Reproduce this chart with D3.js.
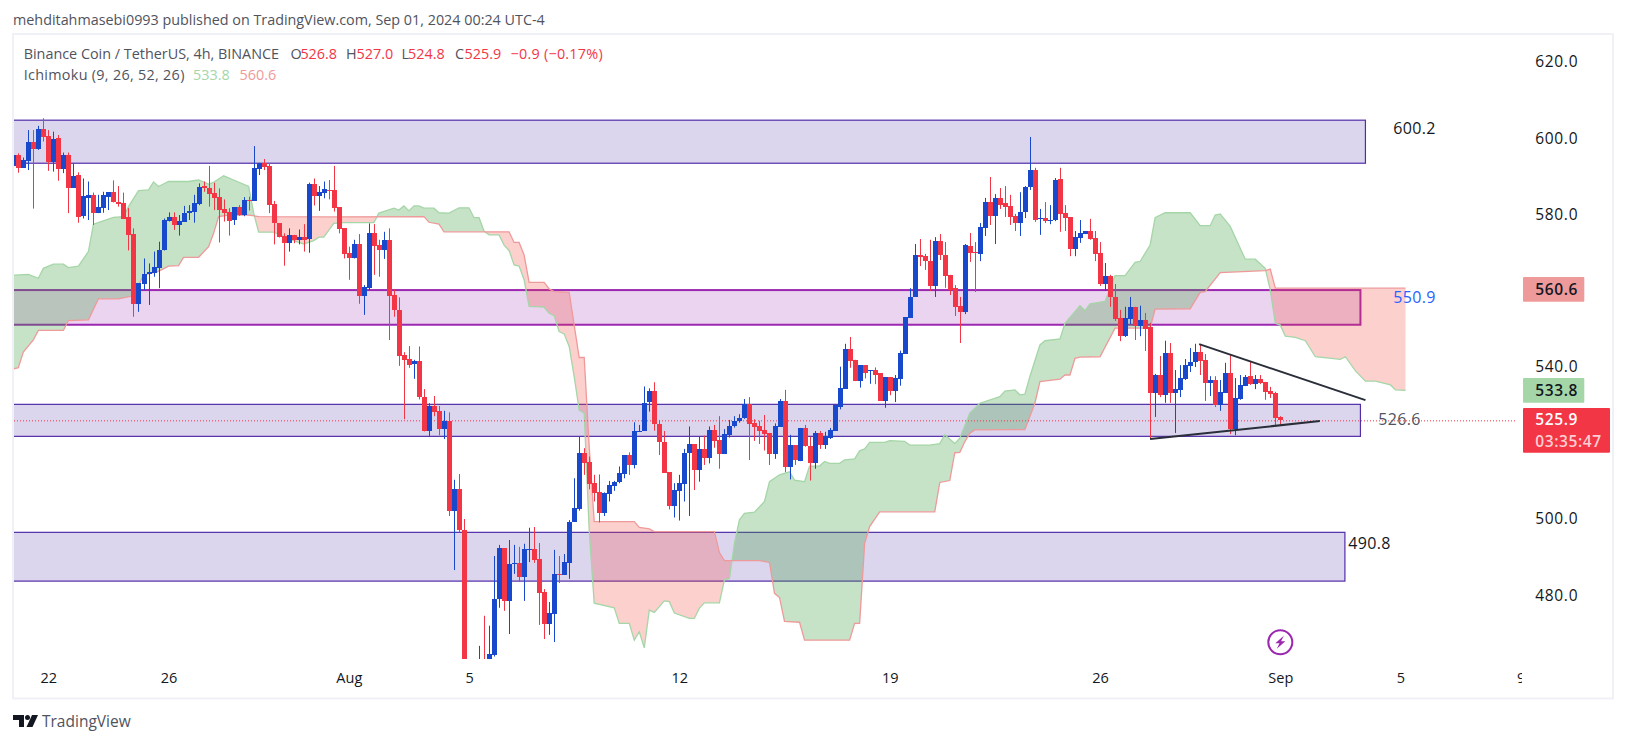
<!DOCTYPE html>
<html><head><meta charset="utf-8">
<style>html,body{margin:0;padding:0;background:#fff}svg{display:block}text{font-family:"Open Sans",sans-serif}</style>
<script src="https://cdn.jsdelivr.net/npm/d3@7/dist/d3.min.js"></script></head><body>
<script>
// ---- values (4h candles, index 0 = first visible bar) ----
const opens=[592.8,595.6,592.2,594.0,598.9,597.2,602.3,600.5,593.7,600.0,591.9,595.6,587.0,590.3,579.5,584.4,585.0,580.4,581.7,584.6,585.8,583.2,582.9,579.2,574.8,556.5,561.6,564.2,564.7,565.9,570.5,578.3,579.2,577.2,578.1,580.3,580.7,582.7,587.3,586.8,585.5,584.5,581.3,580.5,578.5,581.8,579.8,583.8,583.6,592.0,593.4,592.7,582.6,577.6,574.3,572.5,574.6,573.3,574.0,573.5,588.0,584.9,585.7,586.5,586.4,581.8,576.3,569.8,568.6,572.2,558.6,560.7,575.0,572.0,570.5,573.3,558.8,555.0,543.1,542.0,540.7,541.5,532.0,523.2,529.7,528.4,523.7,525.8,502.0,507.9,497.1,455,435,440,458,455,464.3,479.0,492.4,478.5,488.1,488.5,484.8,491.9,492.1,489.5,480.8,472.5,475.1,485.6,485.3,488.5,499.3,502.6,517.3,514.9,509.4,507.0,501.7,506.6,508.7,509.6,511.8,516.8,514.2,522.9,523.1,530.6,533.6,525.0,520.1,512.3,503.4,507.4,509.2,517.3,519.7,512.9,518.4,516.0,523.4,520.8,517.1,522.1,524.3,525.6,526.5,530.1,525.1,524.4,523.4,522.6,517.1,524.2,531.0,513.7,519.4,515.2,523.9,519.2,514.8,522.6,519.4,521.2,523.1,529.5,534.2,544.6,541.8,536.2,540.4,538.9,539.1,538.2,531.0,537.3,533.6,536.7,543.3,552.8,558.3,569.3,569.0,567.7,561.2,573.0,569.3,564.1,560.7,555.9,554.4,571.7,570.1,569.6,576.3,583.2,579.5,584.3,582.9,582.2,579.5,577.7,580.6,587.2,591.6,578.7,578.9,578.2,578.5,589.3,580.3,579.3,570.9,573.8,574.8,575.6,573.8,569.8,561.7,563.8,558.3,552.8,548.0,552.5,555.7,550.7,552.3,550.4,533.2,537.8,532.6,543.6,533.1,533.9,536.8,540.2,541.1,543.8,541.8,535.7,536.5,530.0,533.1,538.3,523.6,531.5,535.0,537.5,535.4,536.8,536.0,533.6,533.1,526.8];
const highs=[597.3,596.0,594.9,602.1,602.1,603.2,605.2,602.1,601.7,600.8,596.2,596.2,593.4,591.0,589.4,588.6,585.7,585.1,585.9,585.8,588.9,587.4,585.7,581.6,576.3,561.9,568.4,567.1,570.2,572.8,578.9,580.5,580.5,579.8,582.2,582.4,585.1,588.1,588.6,592.7,588.3,586.8,583.9,581.6,581.8,582.4,584.5,584.6,597.9,593.5,594.5,593.4,583.5,577.6,575.0,576.3,574.6,576.0,577.4,588.3,589.4,587.4,588.6,589.0,592.7,581.8,576.3,571.5,573.3,574.8,561.4,577.6,577.4,573.3,575.4,576.3,560.3,558.2,543.8,545.4,541.8,545.3,534.1,530.4,532.3,529.7,528.4,528.0,510.3,511.8,500.0,458,445,466.7,474.6,472.0,490.3,493.2,492.4,494.5,493.2,492.7,493.5,497.7,497.9,493.7,481.6,478.2,491.9,490.3,490.8,499.7,510.7,521.6,518.6,516.4,511.6,511.7,507.0,510.0,510.0,513.8,516.8,517.5,525.4,524.7,534.8,534.3,535.9,526.0,523.1,512.3,509.4,511.6,518.4,524.3,519.7,521.6,521.9,524.3,524.7,527.0,523.6,526.0,527.0,527.5,531.5,532.0,526.2,525.8,527.3,522.6,525.1,531.5,533.9,522.1,519.4,523.9,524.7,521.6,523.1,523.1,522.9,523.9,530.2,540.0,546.0,547.8,541.8,540.4,540.4,539.1,539.8,538.2,537.3,537.3,537.8,544.2,553.0,560.6,572.2,573.5,569.6,573.3,574.0,574.8,572.7,564.1,561.4,558.3,572.2,575.1,572.7,577.7,584.3,589.8,585.3,586.9,587.4,585.1,580.1,585.8,587.4,600.3,592.2,581.4,583.2,582.4,589.5,592.2,582.4,579.3,575.6,578.5,575.6,578.8,575.6,572.7,567.2,564.1,561.7,554.9,555.7,558.3,555.7,556.0,554.1,551.5,538.1,542.8,546.8,546.2,539.1,540.4,542.0,544.9,546.0,545.7,543.3,537.5,537.5,536.5,541.0,543.3,537.0,537.8,537.8,541.5,537.8,537.8,536.0,534.7,533.4,527.0];
const lows=[592.8,590.9,592.2,591.6,581.5,596.9,599.1,591.4,591.2,588.8,590.8,580.3,587.0,577.8,578.9,578.5,577.2,580.3,580.4,581.1,583.1,582.0,578.8,570.5,553.1,554.4,560.1,556.2,563.6,560.6,570.5,578.1,575.9,574.4,578.1,578.5,577.8,582.4,585.9,582.0,581.1,572.6,578.1,574.4,577.2,579.6,579.5,581.0,583.6,590.3,591.6,580.3,572.1,573.9,566.5,570.2,572.4,572.1,570.2,569.9,582.3,580.9,584.2,583.9,580.7,575.0,568.4,562.8,568.4,556.5,553.6,560.1,564.1,563.6,568.3,547.0,553.1,540.2,526.2,539.7,536.8,531.4,523.0,521.8,527.0,522.0,521.0,500.8,486.6,496.5,450,420,410,435,450,452,463.9,476.7,475.9,469.8,485.6,483.5,478.5,488.7,488.5,472.2,468.5,469.6,467.7,483.2,485.3,484.3,499.3,502.2,511.6,507.8,504.6,499.1,500.8,504.6,507.4,509.4,510.7,511.6,513.3,522.9,523.1,528.2,523.2,516.8,512.2,502.5,500.4,499.6,504.6,500.8,507.6,509.8,514.2,514.6,518.7,513.2,517.1,521.4,524.0,525.3,526.3,515.5,520.5,519.7,518.0,514.2,515.8,524.2,512.3,510.4,514.2,515.2,519.0,510.1,513.2,518.4,518.4,521.0,523.1,528.8,534.2,539.7,536.2,534.5,536.9,535.5,535.4,531.0,529.2,532.5,530.7,535.0,543.3,552.8,558.3,566.4,565.4,559.9,558.3,568.0,560.7,558.8,553.3,546.2,553.8,567.5,559.6,567.7,574.3,577.2,572.2,581.4,579.3,577.2,575.6,574.3,579.0,586.4,578.0,574.6,577.7,577.4,578.2,575.4,575.6,569.0,569.0,572.5,574.8,573.3,567.7,561.2,559.9,555.7,552.0,546.7,547.8,551.2,547.0,548.0,544.1,521.0,526.8,532.0,530.5,530.5,522.6,532.0,536.5,538.6,539.9,537.8,531.0,532.3,529.4,528.4,533.1,522.3,522.0,531.3,534.9,535.2,534.1,535.4,531.3,531.8,524.4,524.8];
const closes=[595.6,592.2,594.2,598.9,597.2,602.3,600.4,593.8,599.8,591.9,595.6,587.0,590.0,579.3,584.8,585.0,580.4,581.8,585.0,585.8,583.1,582.7,578.8,574.6,556.5,561.9,564.2,564.9,566.1,570.6,578.5,579.2,577.2,578.3,580.3,580.9,582.9,587.1,586.9,585.3,584.4,581.1,580.4,578.3,581.8,579.8,583.8,583.5,592.1,593.4,592.5,582.4,577.6,574.1,572.5,574.6,573.3,574.0,573.3,588.0,584.8,585.9,586.6,586.4,581.7,576.2,569.7,568.6,572.2,558.6,561.0,575.0,571.8,570.5,573.3,558.6,554.9,542.9,541.8,540.4,541.5,531.9,523.2,529.7,528.2,523.7,525.7,502.0,507.9,497.0,455,435,440,455,452,464.6,479.0,492.4,478.5,488.2,488.5,484.8,492.1,492.1,489.3,480.6,472.5,475.4,485.6,485.3,488.7,499.2,502.8,517.3,514.8,509.2,506.8,501.7,506.8,508.9,509.8,512.0,516.8,514.2,523.1,523.1,530.4,533.6,524.9,520.1,512.2,503.4,507.6,509.4,517.3,519.7,512.9,518.4,516.0,523.4,520.6,517.1,522.3,524.4,525.7,526.5,530.1,525.0,524.1,523.1,522.3,517.1,524.4,531.0,513.7,519.4,515.5,523.9,519.2,514.8,522.6,519.4,521.8,523.4,529.8,534.4,544.6,541.5,536.2,540.4,538.3,539.1,537.8,531.0,537.3,533.6,536.9,543.5,553.0,558.3,569.3,568.8,567.7,561.2,573.0,569.2,563.8,560.1,555.7,554.4,572.0,569.8,569.8,576.7,583.2,579.5,584.3,582.4,581.9,579.3,577.7,580.6,587.2,591.6,578.5,578.9,578.2,578.5,589.0,580.1,579.0,570.9,574.0,575.1,575.6,573.5,569.6,561.7,563.8,558.3,552.5,548.0,552.8,555.7,550.7,552.3,549.9,533.1,537.8,532.6,543.6,533.1,534.2,537.0,540.4,541.2,543.8,541.5,535.7,536.5,530.0,533.3,538.3,523.6,531.8,535.2,537.3,535.4,536.8,535.7,533.3,532.8,526.5,525.9];

const leadAIdx=[0,3,5,6,8,10,11,13,15,16,20,22,23,25,27,28,29,31,35,37,39,40,42,44,47,48,49,52,56,58,60,61,62,64,66,72,73,76,77,78,79,80,81,82,84,85,87,89,91,92,93,94,95,97,98,99,100,101,102,103,106,107,108,109,110,111,112,113,114,115,116,120,121,123,124,125,126,127,128,130,131,132,135,136,137,138,141,142,143,144,145,146,148,150,151,153,155,156,158,159,161,162,163,165,166,168,169,170,171,174,175,178,179,183,185,186,188,189,191,193,197,198,200,201,202,203,205,206,209,210,213,214,215,218,220,222,224,225,227,228,230,235,237,239,240,241,243,246,248,250,251,252,253,254,256,258,260,265,266,268,270,272,275,276,278];
const leadAVal=[564.0,564.2,563.2,565.8,566.9,566.9,566.0,566.4,570.2,577.4,579.2,579.4,582.0,586.2,586.4,588.5,587.3,588.6,588.6,589.0,587.9,588.4,590.1,589.0,587.3,580.3,575.3,575.3,573.1,572.2,573.1,574.0,574.0,577.6,577.8,577.8,580.3,581.6,581.1,582.2,580.9,582.2,582.2,581.6,581.6,580.4,580.3,581.7,581.7,579.1,579.1,575.6,574.6,574.6,571.9,570.5,566.7,566.4,562.8,555.8,555.6,554.0,553.4,549.2,548.6,545.3,537.4,528.6,527.8,497.0,477.9,476.7,472.6,472.6,468.2,470.4,466.2,476.1,475.5,478.5,478.3,475.3,473.9,473.9,476.6,478.0,478.0,484.0,484.4,493.6,499.8,501.5,501.8,504.6,509.8,511.6,512.4,510.2,509.8,513.9,513.9,515.1,514.6,514.6,515.5,515.8,517.9,518.4,520.1,520.1,520.6,520.4,519.4,519.4,519.8,522.1,519.8,521.2,527.8,530.4,532.1,533.6,533.9,532.6,532.8,537.4,545.7,546.8,547.3,551.4,556.0,554.7,556.5,557.1,563.9,563.9,567.4,567.6,571.9,579.1,580.4,580.4,577.0,577.0,579.8,580.1,576.8,568.2,568.2,565.8,560.1,551.4,550.9,548.0,547.7,546.8,542.6,541.9,542.6,538.9,536.2,536.2,535.2,533.9,533.8];
const leadBIdx=[0,1,2,4,5,10,11,15,17,21,24,26,29,31,33,34,37,39,40,41,43,47,49,64,82,83,85,86,99,100,101,102,103,106,107,108,111,112,113,114,115,116,124,125,127,128,140,141,142,149,151,152,153,154,157,158,167,168,169,170,171,173,184,185,187,188,189,190,191,192,202,204,205,209,210,211,212,213,217,220,227,228,235,237,238,241,250,251,252,278];
const leadBVal=[539.4,539.7,543.8,547.0,549.5,549.5,552.1,552.3,557.8,557.8,558.6,564.0,565.0,566.4,566.5,568.7,568.7,571.5,575.0,579.4,579.8,579.8,579.4,579.3,579.4,577.9,577.4,575.4,575.4,572.6,572.6,569.3,562.1,562.1,560.4,559.7,559.5,550.9,542.4,542.4,519.0,499.3,499.3,497.8,497.4,496.7,496.7,491.2,489.1,489.1,488.6,480.5,479.4,473.1,472.9,468.2,468.2,472.6,472.6,493.6,498.0,501.9,501.9,509.6,510.1,517.4,517.5,520.3,522.5,523.4,523.5,530.4,536.1,536.7,537.8,537.8,542.2,542.5,542.6,550.1,550.1,555.1,555.2,559.5,559.7,564.7,565.2,565.6,560.6,560.6];

const zoneNames=["upper","middle","lower","bottom"];
const zoneTops=[604.7,560.1,530.1,496.5];
const zoneBottoms=[593.4,551.0,521.7,483.7];
const zoneEnds=[270,269,269,265.9];
const zoneLabels=["600.2","550.9","526.6","490.8"];
const zoneLabelPrices=[602.5,558.1,526.2,493.5];
const zoneLabelIdx=[279.8,279.8,276.8,270.8];

const trendIdxUpper=[236.8,270], trendValUpper=[545.9,531.2];
const trendIdxLower=[227,260.9], trendValLower=[521.0,525.7];

const yTickValues=[480,500,540,580,600,620];
const xTickIdx=[7,31,67,91,133,175,217,253,277,301];
const xTickLabels=["22","26","Aug","5","12","19","26","Sep","5","9"];
const lastClose=525.9, lastAmount=["525.9","03:35:47"];
const leadATag=533.8, leadBTag=560.6;
const legendPrefixes=["O","H","L","C"];
const legendOHLC=["526.8","527.0","524.8","525.9"];
const legendChange="−0.9 (−0.17%)";

// ---- scales ----
const W=1627,H=743;
const x=d3.scaleLinear().domain([0,253]).range([13.3,1280.3]);
const y=d3.scaleLinear().domain([480,620]).range([595.2,61.9]);
const BLUE="#1848CC",RED="#F23645";
const svg=d3.select("body").append("svg").attr("width",W).attr("height",H);
const defs=svg.append("defs");
defs.append("clipPath").attr("id","plot").append("rect").attr("x",14).attr("y",34).attr("width",1508).attr("height",625);
defs.append("clipPath").attr("id","xaxis").append("rect").attr("x",14).attr("y",660).attr("width",1508).attr("height",38);

// frame
svg.append("rect").attr("x",13).attr("y",34).attr("width",1600).attr("height",664.5).attr("fill","#fff").attr("stroke","#F0F1F7").attr("stroke-width",2);

// header
svg.append("text").attr("x",13).attr("y",25).attr("font-size",14.35).attr("fill","#50535E").text("mehditahmasebi0993 published on TradingView.com, Sep 01, 2024 00:24 UTC-4");

const plot=svg.append("g").attr("clip-path","url(#plot)");

// zones
zoneNames.forEach((n,i)=>{
  const purple=n==="middle";
  plot.append("rect").attr("x",x(-1)).attr("width",x(zoneEnds[i])-x(-1))
    .attr("y",y(zoneTops[i])).attr("height",y(zoneBottoms[i])-y(zoneTops[i]))
    .attr("fill",purple?"rgba(156,39,176,0.2)":"rgba(81,45,168,0.2)")
    .attr("stroke",purple?"#9C27B0":"#512DA8").attr("stroke-width",purple?2:1.2);
});

// cloud
const lerpA=d3.scaleLinear().domain(leadAIdx).range(leadAVal);
const lerpB=d3.scaleLinear().domain(leadBIdx).range(leadBVal);
const samples=d3.range(0,278.01,0.125);
const areaUp=d3.area().x(k=>x(k)).y0(k=>y(lerpB(k))).y1(k=>y(Math.max(lerpA(k),lerpB(k))));
const areaDn=d3.area().x(k=>x(k)).y0(k=>y(lerpB(k))).y1(k=>y(Math.min(lerpA(k),lerpB(k))));
plot.append("path").attr("d",areaUp(samples)).attr("fill","rgba(67,160,71,0.3)");
plot.append("path").attr("d",areaDn(samples)).attr("fill","rgba(244,67,54,0.25)");
const lineAt=(idx,val)=>d3.line().x((d,i)=>x(idx[i])).y((d,i)=>y(val[i]))(idx);
plot.append("path").attr("d",lineAt(leadAIdx,leadAVal)).attr("fill","none").attr("stroke","#A5D6A7").attr("stroke-width",1.3);
plot.append("path").attr("d",lineAt(leadBIdx,leadBVal)).attr("fill","none").attr("stroke","#EF9A9A").attr("stroke-width",1.3);

// last price line
plot.append("line").attr("x1",14).attr("x2",1517).attr("y1",y(lastClose)+.5).attr("y2",y(lastClose)+.5)
  .attr("stroke",RED).attr("stroke-width",1).attr("stroke-dasharray","1 2");

// candles
const candles=plot.append("g").selectAll("g").data(opens).join("g");
candles.each(function(o,k){
  const g=d3.select(this),c=closes[k],col=c>=o?BLUE:RED,xr=Math.round(x(k));
  g.append("rect").attr("x",xr).attr("width",1).attr("y",y(highs[k])).attr("height",y(lows[k])-y(highs[k])).attr("fill",col);
  const top=Math.round(y(Math.max(o,c))),bot=Math.round(y(Math.min(o,c)));
  g.append("rect").attr("x",xr-2).attr("width",5).attr("y",top).attr("height",Math.max(1,bot-top)).attr("fill",col);
});

// trend lines
[[trendIdxUpper,trendValUpper],[trendIdxLower,trendValLower]].forEach(([a,b])=>{
  plot.append("line").attr("x1",x(a[0])).attr("y1",y(b[0])).attr("x2",x(a[1])).attr("y2",y(b[1]))
    .attr("stroke","#2A2E39").attr("stroke-width",2);
});

// zone labels
const labelFill=["#131722","#2962FF","#50535E","#131722"];
zoneLabels.forEach((t,i)=>{
  svg.append("text").attr("x",x(zoneLabelIdx[i])).attr("y",y(zoneLabelPrices[i])).attr("dy","0.35em")
    .attr("text-anchor","middle").attr("font-size",16).attr("letter-spacing",0.3).attr("fill",labelFill[i]).text(t);
});

// lightning marker
const bolt=svg.append("g").attr("transform",`translate(${x(253)},642.3)`);
bolt.append("circle").attr("r",12).attr("fill","#fff").attr("stroke","#9C27B0").attr("stroke-width",2);
bolt.append("path").attr("d","M3.5,-6.5 L-5,1 L-0.8,1 L-3.5,6.5 L5,-1 L0.8,-1 Z").attr("fill","#9C27B0");

// axes
const yAxis=d3.axisRight(y).tickValues(yTickValues).tickFormat(d3.format(".1f")).tickSize(0);
const ya=svg.append("g").attr("transform","translate(1556.7,0)").call(yAxis);
ya.select(".domain").remove();
ya.selectAll("text").attr("x",0).attr("text-anchor","middle").attr("font-size",15.5).attr("font-weight",500).attr("letter-spacing",0.7).attr("font-family",'"Open Sans",sans-serif').attr("fill","#131722");
const xAxis=d3.axisBottom(x).tickValues(xTickIdx).tickFormat((d,i)=>xTickLabels[i]).tickSize(0);
const xa=svg.append("g").attr("clip-path","url(#xaxis)").append("g").attr("transform","translate(0,670)").call(xAxis);
xa.select(".domain").remove();
xa.selectAll("text").attr("y",0).attr("dy","0.9em").attr("font-size",14.5).attr("font-family",'"Open Sans",sans-serif').attr("fill","#131722");

// legend
const legendFont=14.38, GREY="#50535E";
const lt=(tx,ty,t,col,ls)=>svg.append("text").attr("x",tx).attr("y",ty).attr("font-size",legendFont).attr("letter-spacing",ls||0).attr("fill",col).text(t);
lt(23.7,59,"Binance Coin / TetherUS, 4h, BINANCE",GREY);
const prefixX=[290.5,346,401.4,455], valueX=[300.4,356.5,408,464.6];
legendPrefixes.forEach((p,i)=>{lt(prefixX[i],59,p,GREY);lt(valueX[i],59,legendOHLC[i],RED);});
lt(510.5,59,legendChange,RED,0.25);
lt(23.7,80,"Ichimoku (9, 26, 52, 26)",GREY,0.3);
lt(193,80,leadATag.toFixed(1),"#A5D6A7");
lt(239.6,80,leadBTag.toFixed(1),"#EF9A9A");

// price tags
const tag=(yTop,hh,ww,fill,lines,col)=>{
  svg.append("rect").attr("x",1523).attr("y",yTop).attr("width",ww).attr("height",hh).attr("rx",1).attr("fill",fill);
  lines.forEach((l,i)=>svg.append("text").attr("x",1535.3).attr("y",yTop+hh/(2*lines.length)*(2*i+1)).attr("dy","0.35em")
    .attr("font-size",15.5).attr("font-weight",600).attr("letter-spacing",0.6).attr("fill",col[i]).text(l));
};
tag(277,24.7,61.3,"#EF9A9A",[leadBTag.toFixed(1)],["#131722"]);
tag(378,24.7,61.3,"#A5D6A7",[leadATag.toFixed(1)],["#131722"]);
tag(408,44.7,87,RED,lastAmount,["#fff","#FFCFD3"]);

// TradingView mark
const tv=svg.append("g").attr("fill","#131722");
tv.append("path").attr("d","M13,715H24V727H19V720H13Z");
tv.append("circle").attr("cx",27.5).attr("cy",717.5).attr("r",2.5);
tv.append("path").attr("d","M32,715H38L32.5,727H26.5Z");
svg.append("text").attr("x",42).attr("y",727).attr("font-size",15.5).attr("fill","#50535E").text("TradingView");
</script></body></html>
